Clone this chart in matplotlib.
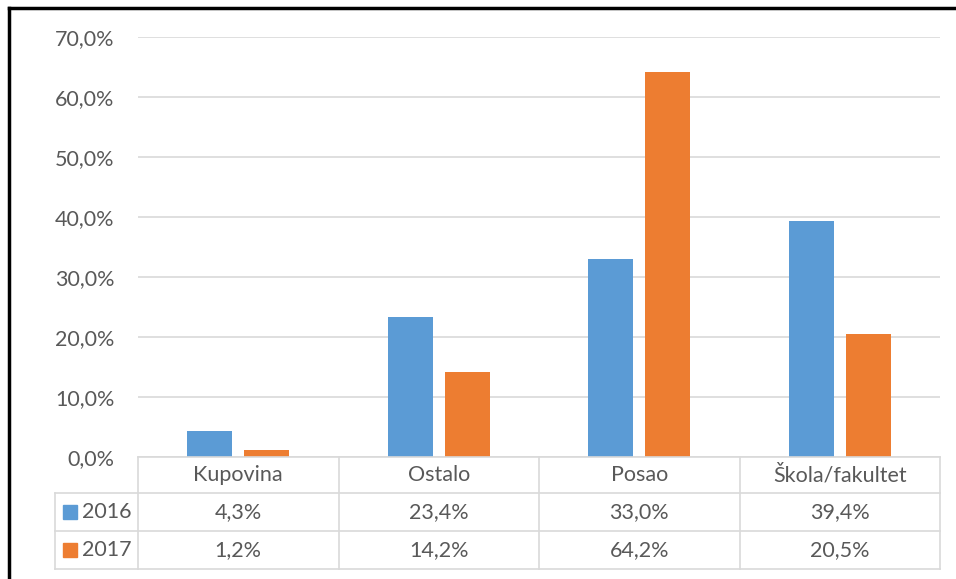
import matplotlib
matplotlib.use("Agg")
import matplotlib.pyplot as plt
from matplotlib.lines import Line2D
import numpy as np

categories = ["Kupovina", "Ostalo", "Posao", "Škola/fakultet"]
series_names = ["2016", "2017"]
values_2016 = [4.3, 23.4, 33.0, 39.4]
values_2017 = [1.2, 14.2, 64.2, 20.5]
yticks = [0, 10, 20, 30, 40, 50, 60, 70]

colors = ["#5B9BD5", "#ED7D31"]
text_color = "#595959"
grid_color = "#D9D9D9"

plt.rcParams['font.family'] = ['Lato', 'DejaVu Sans']

W, H = 956, 579
fig = plt.figure(figsize=(W / 100, H / 100), dpi=100)

def fx(px):
    return px / W

def fy(py):
    return 1 - py / H

x0, x1 = 138, 940
y_top, y_zero = 37, 457
ax = fig.add_axes([fx(x0), fy(y_zero), fx(x1) - fx(x0), fy(y_top) - fy(y_zero)])
ax.set_xlim(0, 4)
ax.set_ylim(0, 70)
for s in ax.spines.values():
    s.set_visible(False)
ax.set_xticks([])
ax.set_yticks(yticks)
ax.set_yticklabels([f"{v:.1f}%".replace(".", ",") for v in yticks])
fs = 15.5
ax.tick_params(axis='y', length=0, pad=17, labelsize=fs, labelcolor=text_color)
ax.grid(axis='y', color=grid_color, linewidth=1.2)
ax.set_axisbelow(True)

x = np.arange(len(categories)) + 0.5
bw = 0.224
off = 0.142
ax.bar(x - off, values_2016, width=bw, color=colors[0], zorder=3)
ax.bar(x + off, values_2017, width=bw, color=colors[1], zorder=3)

# data table
lw = 1.2
rows_y = [457, 493, 531, 569]
col_x = [138, 338.5, 539, 739.5, 940]
leg_x = 55

def hline(y, xa, xb):
    fig.add_artist(Line2D([fx(xa), fx(xb)], [fy(y), fy(y)], color=grid_color, lw=lw))

def vline(x, ya, yb):
    fig.add_artist(Line2D([fx(x), fx(x)], [fy(ya), fy(yb)], color=grid_color, lw=lw))

hline(rows_y[0], col_x[0], col_x[-1])
for y in rows_y[1:]:
    hline(y, leg_x, col_x[-1])
vline(leg_x, rows_y[1], rows_y[-1])
for cx in col_x:
    vline(cx, rows_y[0], rows_y[-1])

for i, cat in enumerate(categories):
    cx = (col_x[i] + col_x[i + 1]) / 2
    fig.text(fx(cx), fy((rows_y[0] + rows_y[1]) / 2), cat, ha='center', va='center',
             fontsize=fs, color=text_color)
    for r, vals in enumerate([values_2016, values_2017]):
        ry = (rows_y[r + 1] + rows_y[r + 2]) / 2
        fig.text(fx(cx), fy(ry), f"{vals[i]:.1f}%".replace(".", ","), ha='center',
                 va='center', fontsize=fs, color=text_color)

for r, name in enumerate(series_names):
    ry = (rows_y[r + 1] + rows_y[r + 2]) / 2
    sq = 14
    fig.add_artist(plt.Rectangle((fx(63), fy(ry + sq / 2)), fx(sq), sq / H,
                                 color=colors[r], transform=fig.transFigure))
    fig.text(fx(82), fy(ry), name, ha='left', va='center', fontsize=fs, color=text_color)

# outer black frame (partially cropped)
fig.add_artist(Line2D([fx(9), fx(9)], [fy(8), 0], color='black', lw=2.5))
fig.add_artist(Line2D([fx(9), 1], [fy(8), fy(8)], color='black', lw=2.5))

fig.savefig("out.png", dpi=100)
